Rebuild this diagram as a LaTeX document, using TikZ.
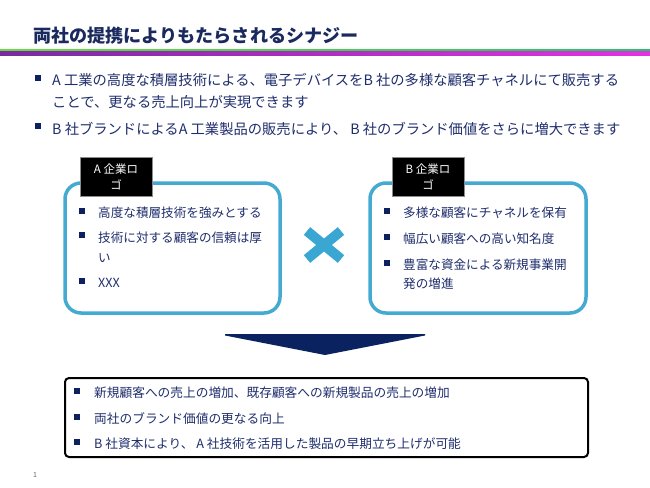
\documentclass[tikz,border=0pt]{standalone}
\usepackage{fontspec}
\newfontfamily\cjk{Noto Sans CJK JP}
\definecolor{titlenavy}{HTML}{1A2A5E}
\definecolor{txtnavy}{HTML}{1F2E6C}
\definecolor{bulnavy}{HTML}{0D2060}
\definecolor{boxblue}{HTML}{45AAD2}
\definecolor{xblue}{HTML}{3AA7D3}
\definecolor{arrownavy}{HTML}{0B2260}
\definecolor{gl}{HTML}{66DE3A}
\definecolor{gr}{HTML}{22C464}
\definecolor{pl}{HTML}{7A2AA0}
\definecolor{pr}{HTML}{E232E2}
\begin{document}
\begin{tikzpicture}[x=1pt,y=-1pt,
  sq/.style={fill=bulnavy,minimum size=6.5pt,inner sep=0pt},
  toptxt/.style={anchor=west,inner sep=0pt,text=txtnavy,font=\cjk\fontsize{14.3}{16}\selectfont},
  boxtxt/.style={anchor=west,inner sep=0pt,text=txtnavy,font=\cjk\fontsize{12.6}{15}\selectfont},
  bottxt/.style={anchor=west,inner sep=0pt,text=txtnavy,font=\cjk\fontsize{12.7}{15}\selectfont},
  logobox/.style={fill=black,draw=black!45,line width=0.8pt,text=white,align=center,
    minimum width=72pt,minimum height=39pt,inner sep=0pt,
    font=\cjk\fontsize{11.5}{15.5}\selectfont},
  roundbox/.style={draw=boxblue,line width=3.5pt,rounded corners=16pt}
]
\useasboundingbox (0,0) rectangle (650,487);

% title
\node[anchor=west,inner sep=0pt,text=titlenavy,font=\cjk\bfseries\fontsize{18.1}{20}\selectfont] (title) at (33,35.5) {両社の提携によりもたらされるシナジー};
\shade[left color=gl,right color=gr] (0,49.5) rectangle (650,51.5);
\shade[left color=pl,right color=pr] (0,51.5) rectangle (650,56);

% top bullets
\node[sq] (s1) at (38,78) {};
\node[toptxt] (t1) at (52,80.5) {A 工業の高度な積層技術による、電子デバイスをB 社の多様な顧客チャネルにて販売する};
\node[toptxt] (t1b) at (52,102.5) {ことで、更なる売上向上が実現できます};
\node[sq] (s2) at (38,126) {};
\node[toptxt] (t2) at (52,128.5) {B 社ブランドによるA 工業製品の販売により、 B 社のブランド価値をさらに増大できます};

% left box
\draw[roundbox] (65,183) rectangle (280,313);
\node[logobox] (la) at (116,177) {A 企業ロ\\ゴ};
\node[sq] (a1s) at (82,211) {};
\node[boxtxt] (a1) at (98,213) {高度な積層技術を強みとする};
\node[sq] (a2s) at (82,235) {};
\node[boxtxt] (a2) at (98,237.5) {技術に対する顧客の信頼は厚};
\node[boxtxt] (a2b) at (98,258) {い};
\node[sq] (a3s) at (82,281) {};
\node[boxtxt] (a3) at (98,283) {XXX};

% right box
\draw[roundbox] (370,183) rectangle (586,313);
\node[logobox] (lb) at (428,177) {B 企業ロ\\ゴ};
\node[sq] (b1s) at (387,211) {};
\node[boxtxt] (b1) at (403,213) {多様な顧客にチャネルを保有};
\node[sq] (b2s) at (387,237) {};
\node[boxtxt] (b2) at (403,239) {幅広い顧客への高い知名度};
\node[sq] (b3s) at (387,263) {};
\node[boxtxt] (b3) at (403,265) {豊富な資金による新規事業開};
\node[boxtxt] (b3b) at (403,284) {発の増進};

% cross
\coordinate (x1) at (307,231);
\coordinate (x2) at (341,259);
\coordinate (x3) at (341,231);
\coordinate (x4) at (307,259);
\draw[xblue,line width=10pt] (x1) -- (x2);
\draw[xblue,line width=10pt] (x3) -- (x4);

% arrow
\fill[arrownavy] (225,334) -- (425,334) -- (425,335.5) -- (325,355) -- (225,335.5) -- cycle;

% bottom box
\draw[black,line width=2pt,rounded corners=4pt] (65,378) rectangle (588,457);
\node[sq] (c1s) at (77,391) {};
\node[bottxt] (c1) at (94,393) {新規顧客への売上の増加、既存顧客への新規製品の売上の増加};
\node[sq] (c2s) at (77,417) {};
\node[bottxt] (c2) at (94,419) {両社のブランド価値の更なる向上};
\node[sq] (c3s) at (77,442) {};
\node[bottxt] (c3) at (94,444) {B 社資本により、 A 社技術を活用した製品の早期立ち上げが可能};

% page number
\node[inner sep=0pt,text=black!60,font=\cjk\fontsize{7}{8}\selectfont] (pg) at (35,475) {1};
\end{tikzpicture}
\end{document}
